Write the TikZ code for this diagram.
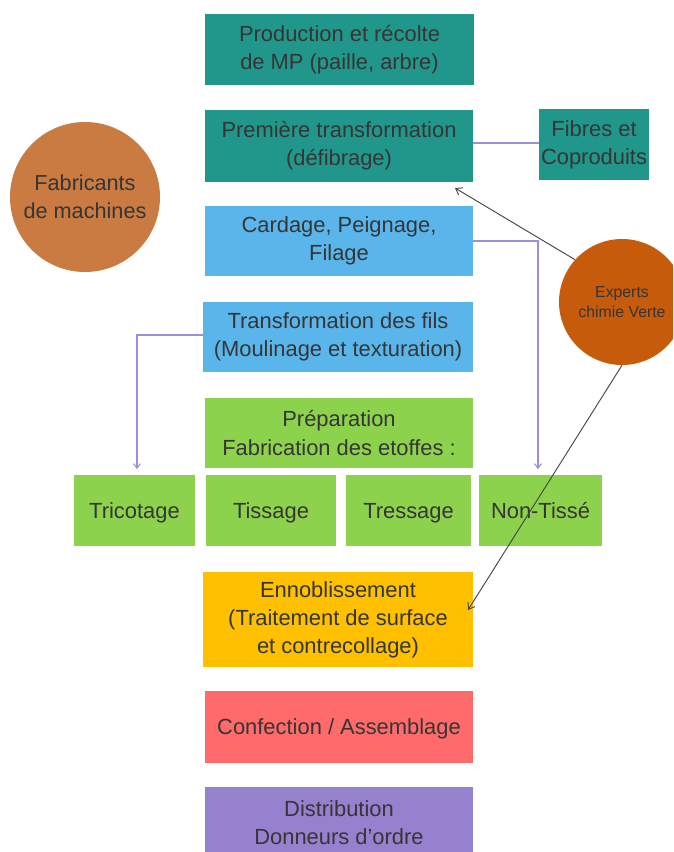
\documentclass[tikz,border=0pt]{standalone}
\usepackage{fontspec}
\setmainfont{Liberation Sans}
\usetikzlibrary{arrows.meta}
\definecolor{teal1}{HTML}{21968A}
\definecolor{blue1}{HTML}{5AB6EA}
\definecolor{green1}{HTML}{8DD24C}
\definecolor{yellow1}{HTML}{FFC000}
\definecolor{red1}{HTML}{FF6B6B}
\definecolor{purple1}{HTML}{9581CD}
\definecolor{fabc}{HTML}{C97B42}
\definecolor{expc}{HTML}{C75B0C}
\definecolor{txt}{HTML}{353535}
\definecolor{link}{HTML}{9C8FDA}
\definecolor{arr}{HTML}{454545}
\tikzset{
  box/.style n args={3}{draw=none, fill=#3, minimum width={#1*0.03cm}, minimum height={#2*0.03cm},
     inner sep=0pt, align=center, text=txt, font=\fontsize{18.7}{24}\selectfont},
  one/.style={text height=13.4pt, text depth=0pt},
  bubble/.style n args={2}{circle, fill=#2, minimum size={#1*0.03cm}, inner sep=0pt, align=center, text=txt},
  plink/.style={draw=link, line width=0.9pt},
  parrow/.style={plink, -{Straight Barb[length=4pt,width=6pt]}, shorten >=5pt},
  karrow/.style={draw=arr, line width=0.8pt, -{Straight Barb[length=5pt,width=7pt]}}
}
\begin{document}
\begin{tikzpicture}[x=0.03cm,y=-0.03cm]
\useasboundingbox (0,0) rectangle (673,852);
\clip (0,0) rectangle (673,852);
\node[box={269}{71}{teal1}] (prod) at (339.5,49.5) {Production et récolte\\de MP (paille, arbre)};
\node[box={268}{72}{teal1}] (prem) at (339,146) {Première transformation\\(défibrage)};
\node[box={110}{71}{teal1}] (fib) at (594,144.5) {Fibres et\\Coproduits};
\node[box={268}{70}{blue1}] (card) at (339,241) {Cardage, Peignage,\\Filage};
\node[box={270}{70}{blue1}] (trans) at (338,337) {Transformation des fils\\(Moulinage et texturation)};
\node[box={268}{70}{green1}] (prep) at (339,433) {Préparation\\Fabrication des etoffes :};
\node[box={121}{71}{green1}, one] (tric) at (134.5,510.5) {Tricotage};
\node[box={130}{71}{green1}, one] (tiss) at (271,510.5) {Tissage};
\node[box={125}{71}{green1}, one] (tress) at (408.5,510.5) {Tressage};
\node[box={123}{71}{green1}, one] (nont) at (540.5,510.5) {Non-Tissé};
\node[box={270}{95}{yellow1}] (enno) at (338,619.5) {Ennoblissement\\(Traitement de surface\\et contrecollage)};
\node[box={268}{72}{red1}, one] (conf) at (339,727) {Confection / Assemblage};
\node[box={268}{72}{purple1}] (dist) at (339,823) {Distribution\\Donneurs d'ordre};
\node[bubble={150}{fabc}, font=\fontsize{18.5}{24}\selectfont] (fab) at (85,197) {Fabricants\\de machines};
\node[bubble={126}{expc}, font=\fontsize{13.5}{17}\selectfont] (exp) at (622,302) {Experts\\chimie Verte};
\coordinate (t1) at (455,188);
\coordinate (t2) at (468,610);
% connectors
\draw[plink] (fib.west |- 0,143) -- (prem.east |- 0,143);
\draw[parrow] (card.east) -- (538,241) -- (538,475);
\draw[parrow] (trans.west |- 0,335) -- (137,335) -- (137,475);
\draw[karrow] (exp.138) -- (t1);
\draw[karrow] (exp.south) -- (t2);
\end{tikzpicture}
\end{document}
